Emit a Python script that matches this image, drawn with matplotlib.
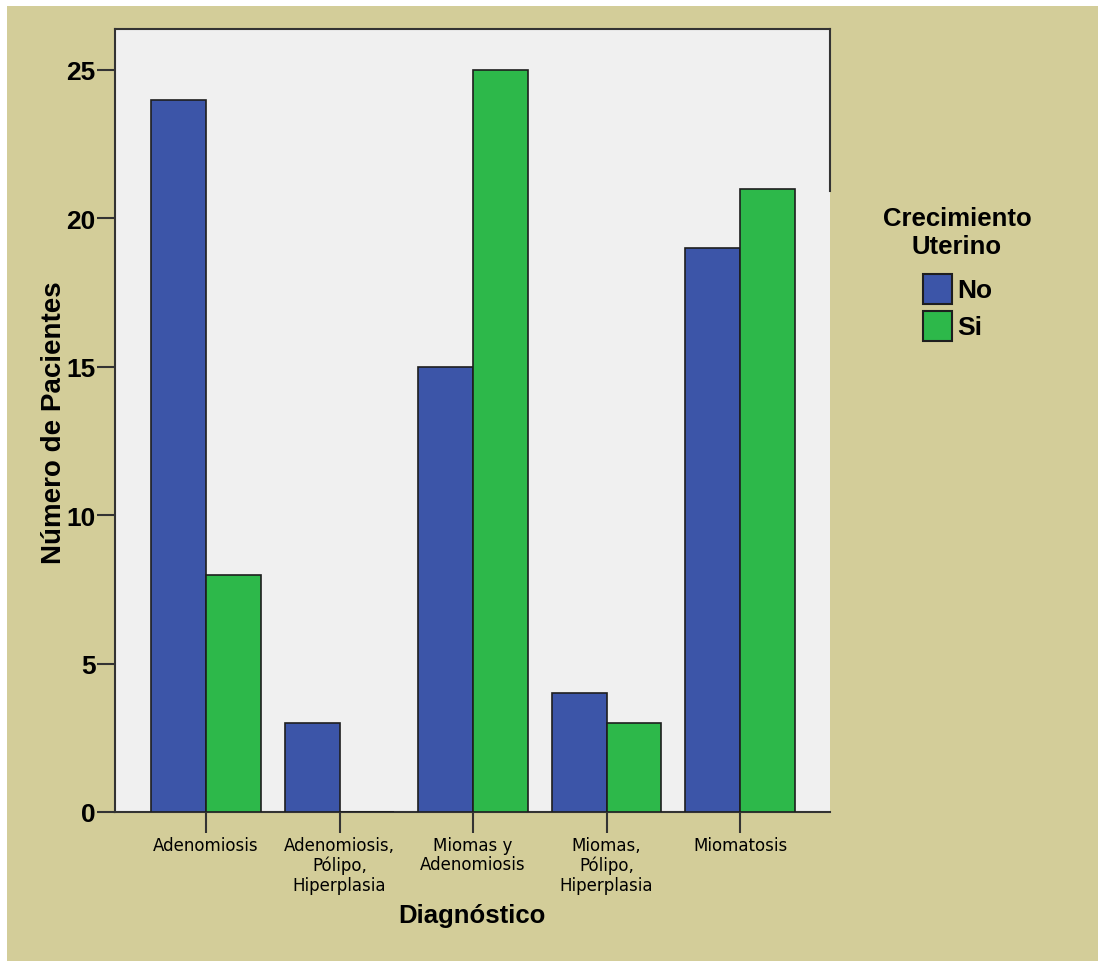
import numpy as np
import matplotlib.pyplot as plt

categories = ["Adenomiosis", "Adenomiosis,\nPólipo,\nHiperplasia", "Miomas y\nAdenomiosis",
              "Miomas,\nPólipo,\nHiperplasia", "Miomatosis"]
no_vals = [24, 3, 15, 4, 19]
si_vals = [8, 0, 25, 3, 21]
y_ticks = [0, 5, 10, 15, 20, 25]
legend_labels = ["No", "Si"]

BG = "#d3cd99"
BLUE = "#3c55a8"
GREEN = "#2db84a"
EDGE = "#1e1e1e"
LINE = "#333333"
W, H = 1098, 962

fig = plt.figure(figsize=(W / 100, H / 100), dpi=100, facecolor="white")
# khaki panel, white strip at top/left
fig.patches.append(plt.Rectangle((7 / W, 0), 1, 1 - 7 / H, transform=fig.transFigure,
                                 facecolor=BG, edgecolor="none", zorder=-10))

ax = fig.add_axes([115 / W, 149 / H, 715 / W, 783 / H])
ax.set_facecolor("#f0f0f0")

x = np.arange(len(categories))
w = 0.41
ax.bar(x - w / 2, no_vals, w, color=BLUE, edgecolor=EDGE, linewidth=1.2, zorder=3)
ax.bar(x + w / 2, si_vals, w, color=GREEN, edgecolor=EDGE, linewidth=1.2, zorder=3)

ax.set_xlim(-0.682, 4.674)
ax.set_ylim(0, 26.38)
ax.set_yticks(y_ticks)
ax.set_yticklabels([str(t) for t in y_ticks], fontfamily="Liberation Sans",
                   fontweight="bold", fontsize=19)
ax.set_xticks(x)
ax.set_xticklabels(categories, fontfamily="DejaVu Sans", fontsize=12, linespacing=1.12)

ax.tick_params(axis="y", length=13, width=1.5, color=LINE, pad=1)
ax.tick_params(axis="x", length=15, width=1.5, color=LINE, pad=2)

for s in ["left", "bottom", "top"]:
    ax.spines[s].set_color(LINE)
    ax.spines[s].set_linewidth(1.5)
ax.spines["right"].set_visible(False)
# right frame line only runs down to where the legend area starts
ax.plot([1, 1], [(813 - 192) / 783, 1], transform=ax.transAxes,
        color=LINE, linewidth=1.5, clip_on=False, zorder=5)

ax.set_xlabel("Diagnóstico", fontfamily="Liberation Sans", fontweight="bold", fontsize=18.5)
ax.xaxis.set_label_coords((472 - 115) / 715, -(904 - 813) / 783)
ax.set_ylabel("Número de Pacientes", fontfamily="Liberation Sans", fontweight="bold", fontsize=20)
ax.yaxis.set_label_coords(-(115 - 67) / 715, (813 - 423) / 783)

# legend drawn by hand: title, two swatches and labels
fig.text(957 / W, 1 - 233 / H, "Crecimiento\nUterino", ha="center", va="center",
         fontfamily="Liberation Sans", fontweight="bold", fontsize=18.5, linespacing=1.25)
for i, (lab, col) in enumerate(zip(legend_labels, [BLUE, GREEN])):
    top = 275 + i * 37
    fig.patches.append(plt.Rectangle((923 / W, 1 - (top + 30) / H), 29 / W, 30 / H,
                                     transform=fig.transFigure, facecolor=col,
                                     edgecolor=EDGE, linewidth=1.5))
    fig.text(957 / W, 1 - (top + 16) / H, lab, ha="left", va="center",
             fontfamily="Liberation Sans", fontweight="bold", fontsize=19)

fig.savefig("out.png", dpi=100, facecolor=fig.get_facecolor())
